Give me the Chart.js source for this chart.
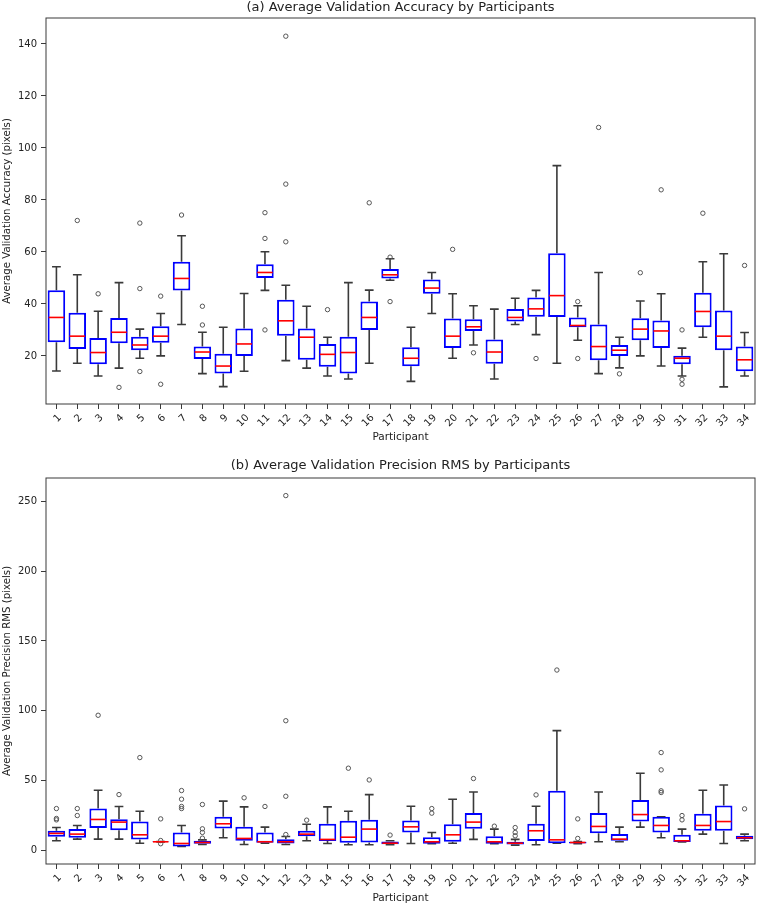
<!DOCTYPE html>
<html>
<head>
<meta charset="utf-8">
<title>Average Validation by Participants</title>
<script src="https://cdn.jsdelivr.net/npm/chart.js@4.4.1/dist/chart.umd.min.js"></script>
<style>
  html, body { margin: 0; padding: 0; background: #fff; }
  canvas { display: block; }
</style>
</head>
<body>
<canvas id="accChart" width="760" height="445"></canvas>
<canvas id="rmsChart" width="760" height="461"></canvas>
<script>
const participants = ["1", "2", "3", "4", "5", "6", "7", "8", "9", "10", "11", "12",
  "13", "14", "15", "16", "17", "18", "19", "20", "21", "22", "23", "24", "25", "26",
  "27", "28", "29", "30", "31", "32", "33", "34"];

// (a) accuracy
const accLow = [14.2, 17.2, 12.3, 15.3, 19.1, 20.0, 32.1, 13.2, 8.2, 14.1, 45.2, 18.2,
  15.3, 12.3, 11.1, 17.2, 49.1, 10.2, 36.3, 19.1, 24.2, 11.1, 32.1, 28.2, 17.2, 26.0,
  13.2, 15.4, 20.0, 16.1, 12.3, 27.2, 8.1, 12.3];
const accQ1 = [25.3, 22.7, 16.8, 24.9, 22.2, 25.1, 45.2, 18.8, 13.2, 20.0, 50.0, 27.8,
  18.5, 15.8, 13.2, 30.0, 49.8, 16.0, 43.9, 23.0, 29.6, 17.0, 33.2, 35.1, 35.0, 31.0,
  18.3, 20.0, 26.0, 23.0, 16.8, 31.0, 22.2, 14.1];
const accMedian = [34.8, 27.6, 21.3, 29.1, 24.2, 27.6, 49.8, 21.5, 16.1, 24.6, 52.1, 33.5,
  27.2, 20.6, 21.3, 34.8, 51.2, 19.1, 46.1, 27.6, 31.2, 21.5, 34.8, 38.1, 43.2, 31.7,
  23.6, 22.2, 30.3, 29.6, 19.1, 37.1, 27.6, 18.5];
const accQ3 = [45.3, 36.6, 26.9, 34.6, 27.4, 31.4, 56.2, 23.6, 20.8, 30.5, 55.3, 41.6,
  30.5, 24.6, 27.4, 40.9, 53.4, 23.3, 49.4, 34.4, 34.1, 26.3, 38.0, 42.5, 59.5, 34.8,
  32.1, 24.2, 34.5, 33.6, 20.1, 44.3, 37.5, 23.6];
const accHigh = [54.3, 51.2, 37.2, 48.2, 30.3, 36.3, 66.2, 29.1, 31.0, 44.0, 60.1, 47.2,
  39.1, 27.2, 48.2, 45.3, 57.4, 31.0, 52.1, 43.9, 39.3, 38.0, 42.2, 45.2, 93.2, 39.3,
  52.1, 27.2, 41.1, 43.9, 23.0, 56.2, 59.3, 29.0];
const accOutliers = [
  ["2", 72.1], ["3", 43.9], ["4", 7.9], ["5", 71.1], ["5", 45.9], ["5", 14.0],
  ["6", 43.0], ["6", 9.1], ["7", 74.2], ["8", 39.1], ["8", 31.9], ["11", 75.1],
  ["11", 65.2], ["11", 30.0], ["12", 143.0], ["12", 86.1], ["12", 63.9], ["14", 37.8],
  ["16", 78.9], ["17", 58.0], ["17", 40.9], ["20", 61.0], ["21", 21.2], ["24", 19.0],
  ["26", 40.9], ["26", 19.0], ["27", 107.9], ["28", 13.1], ["29", 52.0], ["30", 83.9],
  ["31", 30.0], ["31", 11.0], ["31", 9.1], ["32", 74.9], ["34", 54.8]
];
const accTicks = [20, 40, 60, 80, 100, 120, 140];

// (b) precision RMS
const rmsLow = [6.9, 8.1, 8.1, 8.1, 5.2, 6.0, 2.9, 4.3, 9.1, 4.3, 5.2, 4.3,
  6.9, 5.0, 4.1, 4.1, 4.1, 5.0, 4.8, 5.2, 7.9, 4.8, 3.8, 4.1, 5.2, 4.8,
  6.2, 6.2, 16.7, 9.1, 6.0, 11.7, 5.0, 6.9];
const rmsQ1 = [9.8, 9.1, 16.0, 14.5, 7.9, 6.0, 2.9, 4.8, 15.7, 6.9, 5.5, 5.0,
  10.2, 6.7, 5.5, 5.7, 4.5, 12.9, 4.8, 6.2, 15.5, 4.8, 4.3, 6.7, 5.2, 5.0,
  12.4, 6.9, 20.7, 12.9, 6.0, 14.1, 14.1, 8.1];
const rmsMedian = [12.2, 11.7, 22.2, 20.3, 11.2, 6.2, 5.0, 5.7, 19.1, 8.6, 6.2, 6.2,
  11.7, 7.9, 9.5, 15.3, 5.2, 16.9, 6.2, 11.2, 20.3, 6.2, 5.2, 14.1, 7.6, 5.7,
  17.2, 8.1, 25.7, 17.9, 6.9, 17.9, 20.7, 9.1];
const rmsQ3 = [14.1, 15.3, 30.0, 22.4, 20.7, 6.4, 12.9, 6.9, 24.1, 16.9, 12.9, 8.1,
  14.1, 19.1, 21.2, 21.9, 6.4, 21.4, 9.5, 18.8, 26.9, 10.2, 6.2, 19.1, 42.7, 6.2,
  26.9, 11.7, 36.2, 24.1, 11.2, 26.2, 32.2, 10.5];
const rmsHigh = [16.4, 17.9, 43.1, 31.5, 28.1, 6.4, 17.9, 7.6, 35.3, 31.2, 16.7, 10.0,
  18.8, 31.2, 28.1, 40.0, 6.9, 31.7, 12.9, 36.7, 41.9, 15.3, 7.9, 31.7, 85.8, 6.4,
  41.9, 16.7, 55.3, 24.1, 15.3, 43.1, 46.9, 11.7];
const rmsOutliers = [
  ["1", 30.0], ["1", 22.9], ["1", 21.9], ["2", 30.0], ["2", 25.0], ["3", 96.8],
  ["4", 40.0], ["5", 66.5], ["6", 22.6], ["6", 7.1], ["6", 4.8], ["7", 42.9],
  ["7", 36.7], ["7", 31.5], ["7", 30.0], ["8", 32.9], ["8", 15.5], ["8", 12.9],
  ["8", 8.8], ["10", 37.7], ["11", 31.5], ["12", 254.1], ["12", 92.9], ["12", 38.8],
  ["12", 11.4], ["13", 21.7], ["15", 58.9], ["16", 50.5], ["17", 11.0], ["19", 30.0],
  ["19", 26.7], ["21", 51.5], ["22", 17.4], ["23", 16.4], ["23", 12.9], ["23", 10.5],
  ["24", 39.8], ["25", 129.2], ["26", 22.6], ["26", 8.6], ["30", 70.1], ["30", 57.7],
  ["30", 42.7], ["30", 41.5], ["31", 25.0], ["31", 21.9], ["34", 29.8]
];
const rmsTicks = [0, 50, 100, 150, 200, 250];

const FONT = "'DejaVu Sans', 'Liberation Sans', sans-serif";
const INK = "#3a3a3a";

// whiskers behind boxes, medians on top, frame around the axes
const boxPartsPlugin = {
  id: "boxParts",
  beforeDatasetsDraw(chart) {
    const parts = chart.options.plugins.boxParts;
    const meta = chart.getDatasetMeta(0);
    const y = chart.scales.y;
    const ctx = chart.ctx;
    ctx.save();
    ctx.strokeStyle = INK;
    ctx.lineWidth = 1.6;
    meta.data.forEach((bar, i) => {
      const { x, width } = bar.getProps(["x", "width"], true);
      const cap = width / 4;
      const yLow = y.getPixelForValue(parts.low[i]);
      const yQ1 = y.getPixelForValue(parts.q1[i]);
      const yQ3 = y.getPixelForValue(parts.q3[i]);
      const yHigh = y.getPixelForValue(parts.high[i]);
      ctx.beginPath();
      ctx.moveTo(x, yQ1);
      ctx.lineTo(x, yLow);
      ctx.moveTo(x - cap, yLow);
      ctx.lineTo(x + cap, yLow);
      ctx.moveTo(x, yQ3);
      ctx.lineTo(x, yHigh);
      ctx.moveTo(x - cap, yHigh);
      ctx.lineTo(x + cap, yHigh);
      ctx.stroke();
    });
    ctx.restore();
  },
  afterDatasetsDraw(chart) {
    const parts = chart.options.plugins.boxParts;
    const meta = chart.getDatasetMeta(0);
    const y = chart.scales.y;
    const ctx = chart.ctx;
    ctx.save();
    ctx.strokeStyle = "#ff0000";
    ctx.lineWidth = 1.6;
    meta.data.forEach((bar, i) => {
      const { x, width } = bar.getProps(["x", "width"], true);
      const yMed = y.getPixelForValue(parts.median[i]);
      ctx.beginPath();
      ctx.moveTo(x - width / 2 + 1, yMed);
      ctx.lineTo(x + width / 2 - 1, yMed);
      ctx.stroke();
    });
    const area = chart.chartArea;
    ctx.strokeStyle = INK;
    ctx.lineWidth = 1;
    ctx.strokeRect(area.left, area.top, area.right - area.left, area.bottom - area.top);
    ctx.restore();
  },
};

function buildBoxChart(canvasId, opts) {
  const canvas = document.getElementById(canvasId);
  const boxes = participants.map((p, i) => [opts.q1[i], opts.q3[i]]);
  const fliers = opts.outliers.map(([p, v]) => ({ x: p, y: v }));

  return new Chart(canvas, {
    type: "bar",
    data: {
      labels: participants,
      datasets: [
        {
          data: boxes,
          backgroundColor: "#ffffff",
          borderColor: "#0000ff",
          borderWidth: 2,
          borderSkipped: false,
          categoryPercentage: 1,
          barPercentage: 0.84,
          order: 2,
        },
        {
          type: "scatter",
          data: fliers,
          pointStyle: "circle",
          pointRadius: 2.2,
          pointBackgroundColor: "rgba(0,0,0,0)",
          pointBorderColor: "#555555",
          pointBorderWidth: 1,
          order: 1,
        },
      ],
    },
    options: {
      responsive: false,
      animation: false,
      layout: { padding: { left: 0, right: 1.5, top: 0, bottom: 0 } },
      plugins: {
        legend: { display: false },
        tooltip: { enabled: false },
        title: {
          display: true,
          text: opts.title,
          fullSize: false,
          color: "#222",
          font: { family: FONT, size: 13, weight: "normal" },
          padding: opts.titlePadding,
        },
        boxParts: {
          low: opts.low,
          q1: opts.q1,
          median: opts.median,
          q3: opts.q3,
          high: opts.high,
        },
      },
      scales: {
        x: {
          type: "category",
          offset: true,
          grid: {
            display: true,
            drawOnChartArea: false,
            drawTicks: true,
            tickLength: 5,
            color: INK,
            offset: false,
          },
          border: { display: false },
          ticks: {
            autoSkip: false,
            minRotation: 45,
            maxRotation: 45,
            labelOffset: 3.5,
            padding: 3,
            color: "#222",
            font: { family: FONT, size: 10 },
          },
          title: {
            display: true,
            text: "Participant",
            color: "#222",
            font: { family: FONT, size: 10.5 },
            padding: { top: 0, bottom: opts.xTitleBottom },
          },
          afterFit(scale) {
            scale.height = opts.xAxisHeight;
          },
        },
        y: {
          min: opts.yMin,
          max: opts.yMax,
          grid: {
            display: true,
            drawOnChartArea: false,
            drawTicks: true,
            tickLength: 5,
            color: INK,
          },
          border: { display: false },
          afterBuildTicks(scale) {
            scale.ticks = opts.ticks.map((v) => ({ value: v }));
          },
          ticks: {
            padding: 4,
            color: "#222",
            font: { family: FONT, size: 10 },
          },
          title: {
            display: true,
            text: opts.yTitle,
            color: "#222",
            font: { family: FONT, size: 10.2 },
            padding: { top: 1.5, bottom: 0 },
          },
          afterFit(scale) {
            scale.width = 46;
          },
        },
      },
    },
    plugins: [boxPartsPlugin],
  });
}

buildBoxChart("accChart", {
  title: "(a) Average Validation Accuracy by Participants",
  yTitle: "Average Validation Accuracy (pixels)",
  low: accLow,
  q1: accQ1,
  median: accMedian,
  q3: accQ3,
  high: accHigh,
  outliers: accOutliers,
  ticks: accTicks,
  yMin: 1.5,
  yMax: 150,
  titlePadding: { top: 0, bottom: 2.4 },
  xAxisHeight: 41,
  xTitleBottom: 1.8,
});

buildBoxChart("rmsChart", {
  title: "(b) Average Validation Precision RMS by Participants",
  yTitle: "Average Validation Precision RMS (pixels)",
  low: rmsLow,
  q1: rmsQ1,
  median: rmsMedian,
  q3: rmsQ3,
  high: rmsHigh,
  outliers: rmsOutliers,
  ticks: rmsTicks,
  yMin: -9.7,
  yMax: 266.7,
  titlePadding: { top: 13.2, bottom: 4.2 },
  xAxisHeight: 42,
  xTitleBottom: 1.8,
});
</script>
</body>
</html>
